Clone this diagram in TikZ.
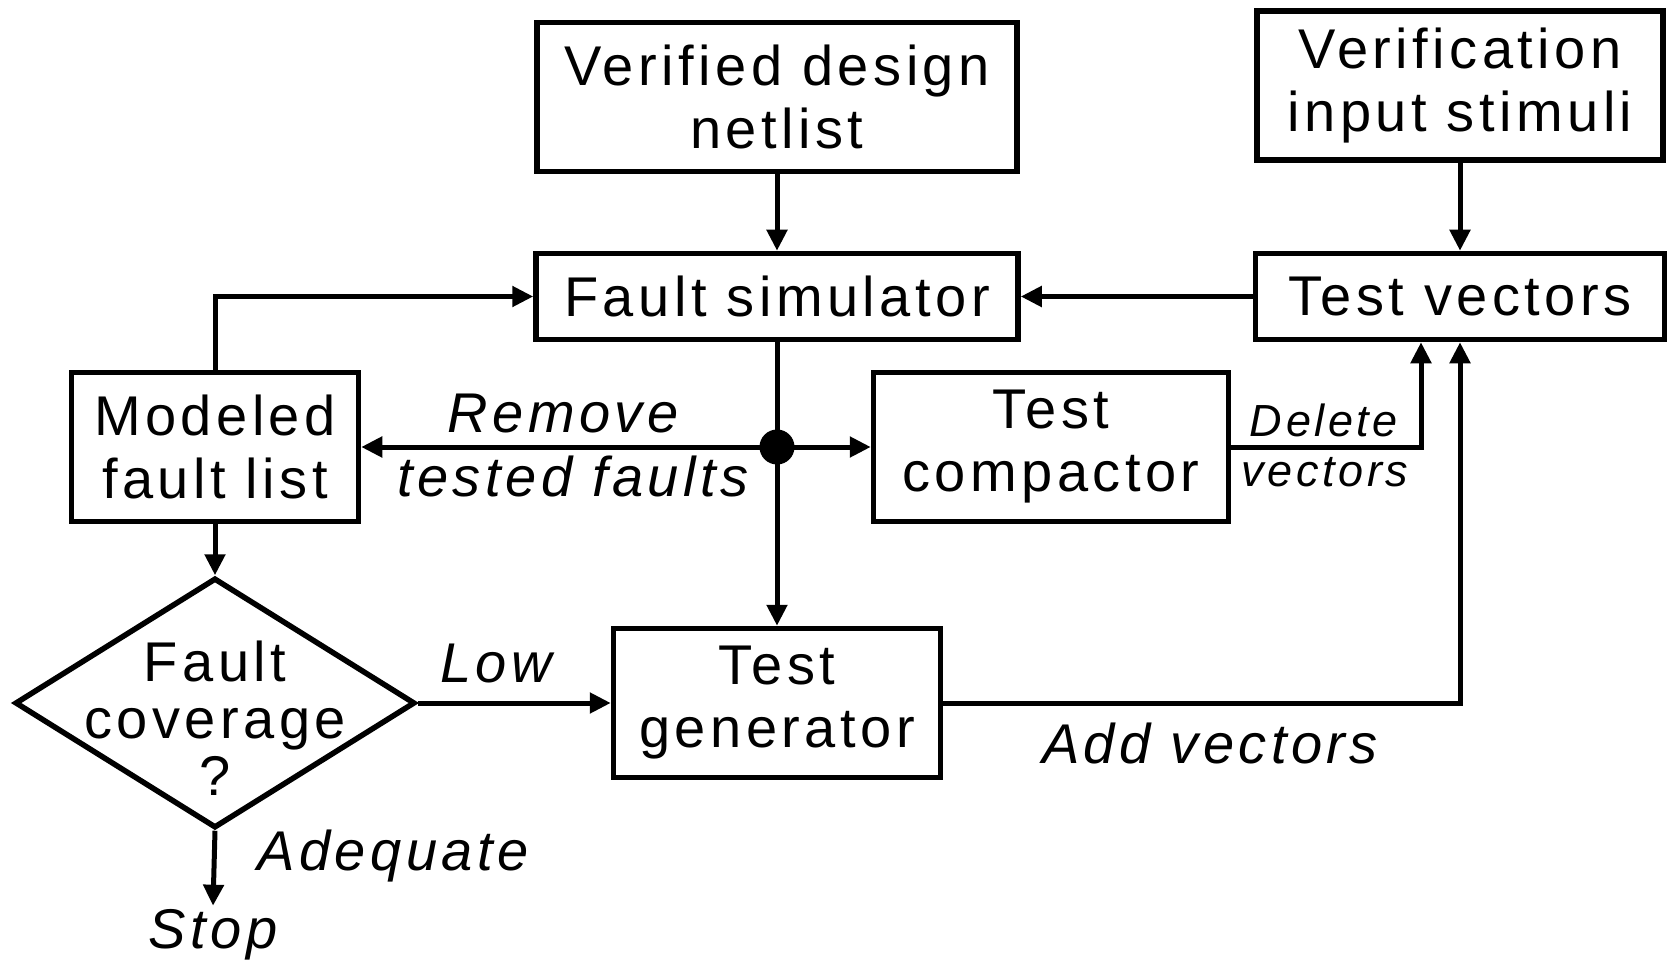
\documentclass[tikz,border=0pt]{standalone}
\usepackage{fontspec}
\setmainfont{Liberation Sans}[LetterSpace=8]
\usetikzlibrary{arrows.meta,shapes.geometric}
\begin{document}
\begin{tikzpicture}[x=1pt,y=-1pt,
  box/.style={draw, line width=5.5pt, inner sep=0pt, align=center,
    font=\fontsize{56pt}{63pt}\selectfont},
  lbl/.style={font=\fontsize{56pt}{63pt}\selectfont\itshape, inner sep=0pt, anchor=base},
  slbl/.style={font=\fontsize{45pt}{50pt}\selectfont\itshape, inner sep=0pt, anchor=base},
  arr/.style={line width=5pt, -{Triangle[length=21pt,width=20pt]}}]
\useasboundingbox (0,0) rectangle (1671,960);
\fill[white] (0,0) rectangle (1671,960);

\node[box, minimum width=480pt, minimum height=149pt] (vdn) at (777,97) {Verified design\\netlist};
\node[box, minimum width=406pt, minimum height=149pt] (vis) at (1460,85.5) {Verification\\input stimuli};
\node[box, minimum width=482pt, minimum height=86pt] (fs) at (777,296.5) {Fault simulator};
\node[box, minimum width=409pt, minimum height=86pt] (tv) at (1460,296.5) {Test vectors};
\node[box, minimum width=287pt, minimum height=149pt] (mfl) at (215,447) {Modeled\\fault list};
\node[box, minimum width=355pt, minimum height=149pt] (tc) at (1051,447) {Test\\compactor};
\node[box, minimum width=327pt, minimum height=149pt] (tg) at (777,703) {Test\\generator};
\node[draw, diamond, line width=5.5pt, inner sep=0pt, minimum width=400pt, minimum height=250pt] (fc) at (215,703) {};
\node[align=center, inner sep=0pt, font=\fontsize{56pt}{57pt}\selectfont] (fct) at ([yshift=-15pt]fc.center) {Fault\\coverage\\?};
\node[circle, fill=black, inner sep=0pt, minimum size=35pt] (dot) at (777,447) {};
\node[lbl, inner sep=3pt] (stop) at (213,948) {Stop};

% connectors
\draw[arr] (vdn.south) -- (fs.north);
\draw[arr] (vis.south) -- (tv.north);
\draw[arr] (tv.west) -- (fs.east);
\draw[arr] (mfl.north) |- (fs.west);
\draw[arr] (fs.south) -- (tg.north);
\draw[arr] (dot.center) -- (mfl.east);
\draw[arr] (dot.center) -- (tc.west);
\draw[arr] (tc.east) -| ([xshift=-39pt]tv.south);
\draw[arr] (tg.east) -| (tv.south);
\draw[arr] (mfl.south) -- (fc.north);
\draw[arr] (fc.east) -- (tg.west);
\draw[arr] (fc.south) -- (stop.north);

% labels
\node[lbl] (rm) at (563,432) {Remove};
\node[lbl] (tf) at (573,496) {tested faults};
\node[slbl] (dl) at (1324,436) {Delete};
\node[slbl] (dv) at (1325,486) {vectors};
\node[lbl] (low) at (496,682) {Low};
\node[lbl] (av) at (1210,763) {Add vectors};
\node[lbl] (adq) at (393,870) {Adequate};
\end{tikzpicture}
\end{document}
